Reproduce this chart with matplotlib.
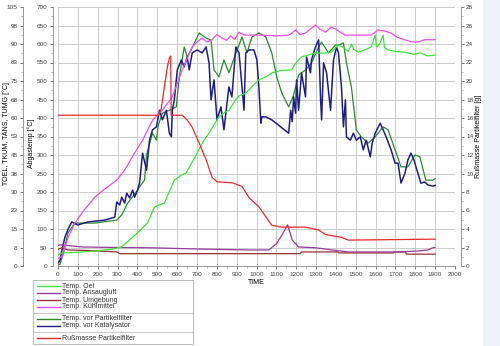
import numpy as np
import matplotlib
matplotlib.use("Agg")
import matplotlib.pyplot as plt
from matplotlib.lines import Line2D
from matplotlib.patches import Rectangle
from matplotlib.ticker import MultipleLocator

plt.rcParams['font.family'] = ['Liberation Sans', 'DejaVu Sans']

# TOEL, TKUM, TANS, TUMG in [°C] (linke äußere Achse, 0..105)
oel_t = [0, 20, 60, 120, 180, 235, 280, 320, 360, 400, 451, 486, 511, 536, 560, 586, 620, 646, 670,
         696, 730, 761, 790, 811, 840, 862, 890, 912, 940, 962, 990, 1012, 1050, 1077, 1120, 1177,
         1200, 1227, 1260, 1297, 1340, 1377, 1412, 1440, 1463, 1478, 1490, 1513, 1550, 1578, 1598,
         1605, 1620, 1638, 1645, 1663, 1700, 1748, 1790, 1828, 1860, 1900]
oel_v = [4.5, 5.3, 5.4, 5.7, 6.0, 6.5, 6.9, 7.7, 10.5, 13.4, 17.4, 23.9, 24.8, 25.5, 30.0, 34.8, 36.8,
         37.7, 41.3, 45.0, 50.3, 53.9, 57.8, 60.5, 62.3, 63.2, 66.8, 69.0, 69.8, 71.4, 73.8, 75.5,
         76.8, 78.3, 79.2, 79.5, 82.5, 84.8, 85.5, 86.4, 86.3, 86.7, 89.6, 88.5, 87.0, 90.0, 87.8,
         86.7, 87.8, 88.8, 93.6, 88.8, 90.0, 93.6, 88.5, 87.6, 87.0, 86.7, 85.8, 86.4, 85.2, 85.5]

ansaug_t = [0, 10, 125, 300, 461, 700, 962, 1062, 1100, 1130, 1157, 1180, 1212, 1297, 1400, 1463,
            1713, 1800, 1864, 1889, 1900]
ansaug_v = [8.3, 8.6, 7.7, 7.5, 7.4, 6.9, 6.5, 6.5, 9.0, 12.8, 16.7, 10.5, 7.7, 7.4, 6.3, 5.7,
            5.7, 6.0, 6.5, 7.4, 7.5]

umg_t = [0, 20, 50, 150, 296, 311, 962, 1220, 1227, 1410, 1413, 1690, 1695, 1750, 1755, 1900]
umg_v = [6.8, 7.4, 6.5, 6.3, 5.7, 5.0, 5.0, 5.0, 5.7, 5.7, 5.3, 5.3, 5.7, 5.7, 4.8, 4.8]

kuehl_t = [0, 20, 50, 85, 130, 185, 240, 296, 336, 380, 426, 476, 526, 576, 626, 676, 700, 726,
           750, 776, 800, 826, 850, 870, 890, 911, 940, 962, 1012, 1100, 1162, 1180, 1197, 1220,
           1247, 1270, 1297, 1320, 1347, 1377, 1400, 1427, 1447, 1513, 1578, 1613, 1640, 1678,
           1710, 1748, 1780, 1813, 1850, 1889, 1900]
kuehl_v = [3.0, 3.8, 11.3, 17.4, 22.5, 27.9, 31.5, 34.8, 38.9, 45.0, 51.0, 59.1, 63.2, 68.6, 79.5,
           88.8, 90.8, 92.4, 90.8, 91.7, 93.8, 92.4, 91.5, 93.3, 91.8, 94.8, 93.6, 93.6, 93.6, 93.3,
           93.6, 94.5, 95.7, 93.8, 94.5, 96.0, 97.7, 96.0, 94.8, 96.9, 96.0, 94.5, 93.6, 93.6, 93.6,
           95.7, 95.3, 94.5, 92.7, 91.7, 90.9, 90.8, 91.8, 91.7, 91.8]

# Abgastemperaturen [°C]
pf_t = [0, 10, 25, 50, 85, 185, 296, 321, 351, 401, 411, 436, 446, 461, 476, 496, 505, 526, 561,
        596, 611, 636, 651, 671, 711, 746, 771, 786, 811, 836, 861, 896, 912, 927, 952, 977, 1012,
        1047, 1077, 1102, 1127, 1162, 1187, 1212, 1247, 1277, 1313, 1328, 1363, 1398, 1413, 1438,
        1453, 1478, 1503, 1528, 1563, 1598, 1638, 1663, 1698, 1728, 1763, 1798, 1823, 1853, 1889,
        1900]
pf_v = [3, 5, 30, 89, 116, 116, 124, 138, 170, 205, 214, 232, 300, 330, 359, 340, 380, 413, 421,
        430, 511, 592, 565, 584, 630, 616, 611, 530, 511, 557, 522, 576, 597, 619, 576, 619, 630,
        619, 576, 511, 468, 430, 462, 516, 530, 549, 592, 605, 576, 597, 597, 603, 549, 484, 368,
        349, 332, 349, 376, 368, 314, 268, 268, 300, 295, 232, 232, 236]

kat_t = [0, 10, 20, 35, 55, 70, 100, 150, 235, 286, 296, 311, 321, 336, 346, 361, 376, 386, 401,
         411, 426, 446, 461, 476, 496, 511, 526, 546, 561, 571, 576, 586, 601, 621, 636, 651, 661,
         676, 701, 726, 746, 761, 771, 786, 801, 821, 836, 851, 861, 876, 896, 912, 927, 937, 946,
         962, 987, 1002, 1012, 1022, 1027, 1047, 1077, 1162, 1172, 1180, 1187, 1197, 1202, 1212,
         1227, 1247, 1252, 1272, 1277, 1297, 1313, 1323, 1328, 1338, 1353, 1373, 1388, 1403, 1413,
         1428, 1438, 1448, 1453, 1473, 1488, 1503, 1523, 1538, 1553, 1573, 1583, 1598, 1623, 1638,
         1653, 1678, 1698, 1713, 1728, 1748, 1763, 1778, 1793, 1813, 1828, 1848, 1863, 1889, 1900]
kat_v = [8, 15, 43, 78, 105, 119, 111, 119, 124, 132, 173, 165, 186, 170, 197, 184, 205, 186, 205,
         225, 305, 259, 340, 368, 376, 421, 395, 421, 359, 349, 421, 449, 530, 557, 538, 565, 530,
         576, 584, 576, 592, 549, 449, 503, 395, 430, 368, 438, 484, 457, 592, 576, 484, 421, 576,
         584, 584, 557, 484, 386, 403, 403, 395, 359, 421, 390, 457, 413, 503, 421, 522, 457, 565,
         522, 557, 592, 611, 449, 395, 549, 522, 421, 557, 592, 576, 484, 376, 449, 349, 340, 359,
         340, 349, 314, 340, 295, 332, 359, 386, 368, 349, 314, 278, 278, 224, 251, 287, 305, 287,
         251, 224, 227, 219, 216, 218]

# Rußmasse Partikelfilter [g]
russ_t = [0, 505, 520, 536, 551, 561, 568, 570, 626, 650, 676, 711, 746, 776, 801, 877, 927, 962,
          1012, 1077, 1127, 1247, 1313, 1348, 1428, 1463, 1889, 1900]
russ_v = [16.3, 16.3, 17.0, 19.4, 21.5, 22.5, 22.7, 16.3, 16.3, 15.8, 15.0, 13.3, 11.5, 9.6, 9.1,
          9.0, 8.6, 7.4, 6.4, 4.4, 4.2, 4.2, 3.9, 3.4, 3.1, 2.8, 2.9, 2.9]

toel_ticks = [0, 7.5, 15, 22.5, 30, 37.5, 45, 52.5, 60, 67.5, 75, 82.5, 90, 97.5, 105]
toel_labels = ['0', '8', '15', '23', '30', '38', '45', '53', '60', '68', '75', '83', '90', '98', '105']

c_oel = '#3ae83a'
c_ansaug = '#9a3a9a'
c_umg = '#9a3030'
c_kuehl = '#f04cf0'
c_pf = '#2a8a2a'
c_kat = '#1e1e82'
c_russ = '#e82a2a'

fs = 5
tfs = 4.6
fig = plt.figure(figsize=(5, 3.46), dpi=100)
fig.patch.set_facecolor('white')


def fx(x):
    return x / 500


def fy(y):
    return 1 - y / 346


# Hintergrund rechts (Bildschirmrand)
fig.add_artist(Rectangle((fx(483), 0), fx(17), 1, transform=fig.transFigure,
                         facecolor='#edf2fa', edgecolor='none', zorder=-10))

ax = fig.add_axes([fx(58), fy(266), fx(397), 259 / 346])
ax.set_xlim(0, 2000)
ax.set_ylim(0, 700)
ax.xaxis.set_major_locator(MultipleLocator(100))
ax.xaxis.set_minor_locator(MultipleLocator(50))
ax.yaxis.set_major_locator(MultipleLocator(50))
ax.yaxis.set_minor_locator(MultipleLocator(25))
ax.grid(True, which='major', color='#cccccc', lw=0.7)
ax.set_axisbelow(True)
for s in ['top', 'right']:
    ax.spines[s].set_visible(False)
ax.spines['left'].set_position(('outward', 3.6))
ax.spines['left'].set_color('#888888')
ax.spines['bottom'].set_color('#888888')
ax.spines['left'].set_linewidth(0.6)
ax.spines['bottom'].set_linewidth(0.6)
ax.tick_params(labelsize=tfs, length=2.5, width=0.5, colors='#444444', pad=1.5)
ax.tick_params(which='minor', length=1.5, width=0.4, colors='#888888')
ax.set_xlabel('TIME', fontsize=fs, labelpad=2)

# äußere linke Achse für TOEL etc.
ax_t = ax.twinx()
ax_t.set_ylim(0, 105)
ax_t.spines['left'].set_visible(True)
ax_t.spines['left'].set_position(('outward', 25))
ax_t.spines['left'].set_color('#888888')
ax_t.spines['left'].set_linewidth(0.6)
for s in ['top', 'right', 'bottom']:
    ax_t.spines[s].set_visible(False)
ax_t.yaxis.set_ticks_position('left')
ax_t.set_yticks(toel_ticks)
ax_t.set_yticklabels(toel_labels)
ax_t.set_yticks(np.arange(3.75, 105, 7.5), minor=True)
ax_t.tick_params(labelsize=tfs, length=2.5, width=0.5, colors='#444444', pad=1.5)
ax_t.tick_params(which='minor', length=1.5, width=0.4, colors='#888888')

# rechte Achse Rußmasse
ax_r = ax.twinx()
ax_r.set_ylim(0, 28)
for s in ['top', 'left', 'bottom']:
    ax_r.spines[s].set_visible(False)
ax_r.spines['right'].set_position(('outward', 4))
ax_r.spines['right'].set_color('#888888')
ax_r.spines['right'].set_linewidth(0.6)
ax_r.yaxis.set_major_locator(MultipleLocator(2))
ax_r.yaxis.set_minor_locator(MultipleLocator(1))
ax_r.tick_params(labelsize=tfs, length=2.5, width=0.5, colors='#444444', pad=1.5)
ax_r.tick_params(which='minor', length=1.5, width=0.4, colors='#888888')

# Achsenbeschriftungen
fig.text(fx(6), fy(134), 'TOEL, TKUM, TANS, TUMG [°C]', fontsize=fs, rotation=90,
         ha='center', va='center')
fig.text(fx(31), fy(143), 'Abgastemp [°C]', fontsize=fs, rotation=90, ha='center', va='center')
fig.text(fx(478), fy(136), 'Rußmasse Partikelfilter [g]', fontsize=fs, rotation=90,
         ha='center', va='center')

lw = 0.9
ax_t.plot(umg_t, umg_v, color=c_umg, lw=lw)
ax_t.plot(ansaug_t, ansaug_v, color=c_ansaug, lw=lw)
ax_t.plot(oel_t, oel_v, color=c_oel, lw=lw)
ax_t.plot(kuehl_t, kuehl_v, color=c_kuehl, lw=lw)
ax_r.plot(russ_t, russ_v, color=c_russ, lw=lw)
ax.plot(pf_t, pf_v, color=c_pf, lw=lw, zorder=3)
ax.plot(kat_t, kat_v, color=c_kat, lw=1.1, zorder=4)

# Legende (manuell, mit Trennlinien)
fig.add_artist(Rectangle((fx(33), fy(344)), fx(160), 64 / 346, transform=fig.transFigure,
                         facecolor='white', edgecolor='#b0b0b0', lw=0.6))
entries = [('Temp. Oel', c_oel, 286), ('Temp. Ansaugluft', c_ansaug, 293),
           ('Temp. Umgebung', c_umg, 300), ('Temp. Kühlmittel', c_kuehl, 306.5),
           ('Temp. vor Partikelfilter', c_pf, 319), ('Temp. vor Katalysator', c_kat, 325.5),
           ('Rußmasse Partikelfilter', c_russ, 338)]
for lab, col, y in entries:
    fig.add_artist(Line2D([fx(37), fx(60)], [fy(y), fy(y)], transform=fig.transFigure,
                          color=col, lw=1.0))
    fig.text(fx(62), fy(y), lab, fontsize=fs, va='center', ha='left', color='#333333')
for y in [313, 331.5]:
    fig.add_artist(Line2D([fx(33), fx(193)], [fy(y), fy(y)], transform=fig.transFigure,
                          color='#c0c0c0', lw=0.6))

fig.savefig('out.png', dpi=100)
